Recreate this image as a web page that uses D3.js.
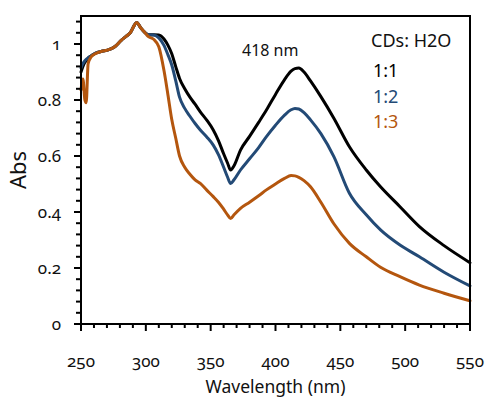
<!DOCTYPE html>
<html>
<head>
<meta charset="utf-8">
<script src="https://cdn.jsdelivr.net/npm/d3@7/dist/d3.min.js"></script>
<style>
  body { margin: 0; background: #fff; }
  svg { display: block; font-family: "Noto Sans", "Open Sans", sans-serif; }
  .tick-label { font-size: 17px; font-variant-numeric: oldstyle-nums; fill: #111; }
  .axis-title { fill: #111; }
  .frame { fill: none; stroke: #000; stroke-width: 2; }
  .tick { stroke: #000; stroke-width: 2; }
  .spectrum { fill: none; stroke-width: 3; stroke-linejoin: round; stroke-linecap: round; }
</style>
</head>
<body>
<svg id="chart" width="487" height="401"></svg>
<script>
// ---------------------------------------------------------------------------
// Data
// ---------------------------------------------------------------------------

const wavelengths = [250, 251.5, 253, 254, 255.5, 258, 261, 266, 271, 276, 281, 285, 288, 293, 296, 299,
  302, 306, 310, 314, 317, 320, 323, 326, 330, 334, 338, 342, 347, 352, 356, 360, 363, 365.4, 368, 373,
  380, 387, 393, 400, 407, 412, 415, 418, 422, 427, 435, 445, 457, 470, 481, 496, 511, 530, 550];

// CDs : H2O = 1:1
const abs11 = [0.90, 0.92, 0.935, 0.94, 0.95, 0.958, 0.967, 0.974, 0.979, 0.99, 1.013, 1.028, 1.04, 1.077, 1.058, 1.042,
  1.033, 1.033, 1.032, 1.018, 0.996, 0.965, 0.92, 0.877, 0.84, 0.81, 0.785, 0.758, 0.728, 0.693, 0.655, 0.608, 0.575, 0.55, 0.565, 0.621,
  0.67, 0.72, 0.764, 0.82, 0.873, 0.903, 0.912, 0.914, 0.9, 0.868, 0.812, 0.735, 0.633, 0.55, 0.49, 0.419, 0.348, 0.28, 0.219];

// CDs : H2O = 1:2
const abs12 = [0.915, 0.93, 0.94, 0.945, 0.95, 0.958, 0.967, 0.974, 0.979, 0.99, 1.013, 1.028, 1.04, 1.077, 1.058, 1.042,
  1.033, 1.032, 1.022, 0.995, 0.962, 0.925, 0.87, 0.81, 0.77, 0.742, 0.716, 0.693, 0.668, 0.639, 0.605, 0.56, 0.525, 0.502, 0.515, 0.55,
  0.59, 0.63, 0.669, 0.71, 0.746, 0.765, 0.77, 0.768, 0.755, 0.729, 0.68, 0.598, 0.467, 0.39, 0.336, 0.282, 0.24, 0.185, 0.136];

// CDs : H2O = 1:3
const abs13 = [0.836, 0.875, 0.80, 0.79, 0.93, 0.955, 0.965, 0.974, 0.979, 0.99, 1.013, 1.028, 1.04, 1.077, 1.058, 1.042,
  1.026, 1.017, 0.99, 0.905, 0.82, 0.73, 0.665, 0.60, 0.56, 0.535, 0.515, 0.502, 0.478, 0.455, 0.435, 0.41, 0.39, 0.377, 0.39, 0.413,
  0.435, 0.458, 0.479, 0.50, 0.52, 0.53, 0.529, 0.524, 0.512, 0.49, 0.435, 0.358, 0.288, 0.24, 0.2025, 0.169, 0.139, 0.11, 0.083];

const seriesNames  = ['1:1', '1:2', '1:3'];
const seriesColors = ['#000000', '#234a76', '#b4560e'];
const legendTitle  = 'CDs: H2O';
const peakLabel    = '418 nm';

const xTickValues = [250, 300, 350, 400, 450, 500, 550];
const yTickValues = [0, 0.2, 0.4, 0.6, 0.8, 1];

// ---------------------------------------------------------------------------
// Layout
// ---------------------------------------------------------------------------

const PLOT = { left: 81, right: 470, top: 16, bottom: 324 };

const svg = d3.select('#chart');

const x = d3.scaleLinear().domain([250, 550]).range([PLOT.left, PLOT.right]);
const y = d3.scaleLinear().domain([0, 1.1]).range([PLOT.bottom, PLOT.top]);

// Spectra (black under blue under orange)
const line = d3.line()
  .x(d => x(d[0]))
  .y(d => y(d[1]))
  .curve(d3.curveMonotoneX);

[abs11, abs12, abs13].forEach((vals, i) => {
  svg.append('path')
    .classed('spectrum', true)
    .attr('stroke', seriesColors[i])
    .attr('d', line(wavelengths.map((w, j) => [w, vals[j]])));
});

// Frame
svg.append('rect').classed('frame', true)
  .attr('x', PLOT.left).attr('y', PLOT.top)
  .attr('width', PLOT.right - PLOT.left)
  .attr('height', PLOT.bottom - PLOT.top);

// X ticks: minor every 10 nm, major every 50
for (const v of d3.range(250, 551, 10)) {
  const major = v % 50 === 0;
  svg.append('line').classed('tick', true)
    .attr('x1', x(v)).attr('x2', x(v))
    .attr('y1', PLOT.bottom).attr('y2', PLOT.bottom + (major ? 7 : 4));
}
svg.selectAll('.x-label')
  .data(xTickValues)
  .join('text')
  .classed('tick-label', true)
  .attr('x', d => x(d))
  .attr('y', 367)
  .attr('text-anchor', 'middle')
  .text(d => d);

// Y ticks: minor every 0.04, major every 0.2
for (const k of d3.range(0, 28)) {
  const v = k * 0.04;
  const major = k % 5 === 0;
  svg.append('line').classed('tick', true)
    .attr('x1', PLOT.left - (major ? 7 : 5)).attr('x2', PLOT.left)
    .attr('y1', y(v)).attr('y2', y(v));
}
svg.selectAll('.y-label')
  .data(yTickValues)
  .join('text')
  .classed('tick-label', true)
  .attr('x', 61)
  .attr('y', d => y(d))
  .attr('dy', '0.35em')
  .attr('text-anchor', 'end')
  .text(d => d === 0 ? '0' : d3.format('.1f')(d).replace(/\.0$/, ''));

// Axis titles
svg.append('text').classed('axis-title', true)
  .attr('x', (PLOT.left + PLOT.right) / 2).attr('y', 393)
  .attr('text-anchor', 'middle')
  .style('font-size', '17.5px')
  .text('Wavelength (nm)');

svg.append('text').classed('axis-title', true)
  .attr('transform', `translate(26,${(PLOT.top + PLOT.bottom) / 2}) rotate(-90)`)
  .attr('text-anchor', 'middle')
  .style('font-size', '22px')
  .text('Abs');

// Peak annotation
svg.append('text')
  .attr('x', 242).attr('y', 56)
  .style('font-size', '16px')
  .attr('fill', '#111')
  .text(peakLabel);

// Legend
svg.append('text')
  .attr('x', 371).attr('y', 47)
  .style('font-size', '18px')
  .attr('fill', '#111')
  .text(legendTitle);

seriesNames.forEach((name, i) => {
  svg.append('text')
    .attr('x', 373).attr('y', [77, 103, 128][i])
    .style('font-size', '18px')
    .attr('fill', seriesColors[i])
    .text(name);
});
</script>
</body>
</html>
